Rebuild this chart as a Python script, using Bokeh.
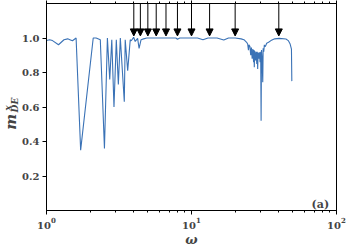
import math
from bokeh.plotting import figure
from bokeh.layouts import row
from bokeh.models import (LogAxis, FixedTicker, PrintfTickFormatter, Arrow, NormalHead,
                          Label, ColumnDataSource, Range1d, LogTicker, CustomJSTickFormatter)
from bokeh.embed import file_html
from bokeh.resources import INLINE

# ---- data ----
omega = [1.00, 1.05, 1.10, 1.21, 1.32, 1.40, 1.45, 1.51, 1.60, 1.72, 2.10, 2.20, 2.35, 2.51,
         2.63, 2.73, 2.82, 2.92, 3.03, 3.13, 3.23, 3.44, 3.49, 3.63, 3.78, 3.84, 3.99, 4.09,
         4.25, 4.35, 4.49, 4.67, 4.92, 5.5, 6.2, 7.0, 7.8, 8.0, 8.3, 9.5, 11.0, 12.0, 13.0,
         15.0, 16.7, 18.0, 20.0, 22.0, 23.0, 24.0, 24.4, 24.7, 24.9, 25.3, 25.6, 25.9, 26.2,
         26.5, 26.8, 27.0, 27.1, 27.3, 27.6, 27.9, 28.2, 28.4, 28.6, 28.8, 29.1, 29.4, 29.7,
         30.0, 30.2, 30.4, 30.7, 31.0, 31.2, 31.5, 31.8, 32.3, 33.0, 34.0, 35.3, 37.5, 40.3,
         44.8, 46.5, 47.9, 48.9, 49.2]
m_de = [0.985, 0.990, 0.985, 0.961, 0.990, 0.995, 0.990, 0.984, 1.000, 0.350, 1.000, 1.000,
        0.990, 0.360, 1.000, 0.760, 0.990, 0.600, 0.990, 0.730, 1.000, 0.630, 0.990, 0.810,
        0.990, 0.984, 1.004, 0.980, 0.998, 0.940, 0.990, 0.995, 1.000, 1.000, 1.000, 1.000,
        1.000, 0.993, 1.000, 1.000, 1.000, 0.990, 1.000, 1.000, 0.988, 1.000, 1.000, 0.995,
        0.990, 0.975, 0.965, 0.930, 0.960, 0.950, 0.900, 0.945, 0.880, 0.936, 0.860, 0.930,
        0.830, 0.925, 0.870, 0.920, 0.850, 0.920, 0.820, 0.915, 0.880, 0.917, 0.860, 0.920,
        0.520, 0.930, 0.880, 0.743, 0.940, 0.920, 0.960, 0.950, 0.970, 0.975, 0.985, 0.995,
        0.998, 0.994, 0.985, 0.965, 0.936, 0.750]

arrow_omega = [4.0, 4.44, 5.0, 5.71, 6.67, 8.0, 10.0, 13.33, 20.0, 40.0]
arrow_from = 1.2
arrow_to = 1.012

y_ticks = [0.2, 0.4, 0.6, 0.8, 1.0]
x_min, x_max = 1, 100
y_min, y_max = 0.0, 1.2

SERIF = "DejaVu Serif"
LABEL_W = 19

# ---------------- main plot ----------------
p = figure(width=349 - LABEL_W, height=249, x_axis_type="log",
           x_range=Range1d(x_min, x_max), y_range=Range1d(y_min, y_max),
           output_backend="svg", toolbar_location=None,
           min_border_left=44 - LABEL_W, min_border_right=13, min_border_top=0,
           min_border_bottom=37)
p.grid.visible = False
p.outline_line_color = "black"
p.outline_line_width = 1
p.background_fill_color = "white"
p.border_fill_color = "white"

p.line(omega, m_de, line_color="#3a72b6", line_width=1.1)

src = ColumnDataSource(dict(x=arrow_omega,
                            y0=[arrow_from] * len(arrow_omega),
                            y1=[arrow_to] * len(arrow_omega)))
p.add_layout(Arrow(end=NormalHead(size=7, fill_color="black", line_color="black", line_width=1),
                   x_start="x", y_start="y0", x_end="x", y_end="y1",
                   source=src, line_color="black", line_width=1))

# bottom x axis
xa = p.xaxis[0]
xa.ticker = LogTicker(num_minor_ticks=10)
xa.axis_label = "ω"
xa.axis_label_text_font = SERIF
xa.axis_label_text_font_style = "bold italic"
xa.axis_label_text_font_size = "13px"
xa.axis_label_standoff = 0
xa.major_label_text_font = SERIF
xa.major_label_text_font_style = "bold"
xa.major_label_text_font_size = "10px"
xa.major_label_standoff = 3
xa.major_tick_out = 4
xa.major_tick_in = 0
xa.minor_tick_out = 2
xa.minor_tick_in = 0
xa.axis_line_color = "black"
xa.major_tick_line_color = "black"
xa.minor_tick_line_color = "black"

# left y axis
ya = p.yaxis[0]
ya.ticker = FixedTicker(ticks=y_ticks)
ya.formatter = PrintfTickFormatter(format="%.1f")
ya.major_label_text_font = SERIF
ya.major_label_text_font_style = "bold"
ya.major_label_text_font_size = "10px"
ya.major_label_standoff = 3
ya.major_tick_out = 4
ya.major_tick_in = 0
ya.minor_tick_line_color = None
ya.axis_line_color = "black"
ya.major_tick_line_color = "black"

# top mirror axis (ticks only)
top = LogAxis(ticker=LogTicker(num_minor_ticks=10),
              formatter=CustomJSTickFormatter(code="return ''"),
              major_label_text_font_size="1px",
              major_label_standoff=0, major_tick_out=3, major_tick_in=0,
              minor_tick_out=2, minor_tick_in=0, axis_line_color="black")
p.add_layout(top, "above")

# panel tag
p.add_layout(Label(x=89, y=0.032, text="(a)", text_font=SERIF, text_font_style="bold",
                   text_font_size="11px", text_align="right", text_baseline="alphabetic"))

# ---------------- y-axis title strip: m^x_{DE} ----------------
lab = figure(width=LABEL_W, height=249, x_range=Range1d(0, LABEL_W), y_range=Range1d(249, 0),
             output_backend="svg", toolbar_location=None,
             x_axis_location=None, y_axis_location=None,
             min_border_left=0, min_border_right=0, min_border_top=0, min_border_bottom=0)
lab.grid.visible = False
lab.outline_line_color = None
lab.background_fill_color = "white"
lab.border_fill_color = "white"
lab.add_layout(Label(x=10.5, y=152, text="m", angle=math.pi / 2,
                     text_font=SERIF, text_font_style="bold italic", text_font_size="15px",
                     text_baseline="alphabetic", text_align="left"))
lab.add_layout(Label(x=7, y=129, text="x", angle=math.pi / 2,
                     text_font=SERIF, text_font_style="bold italic", text_font_size="9px",
                     text_baseline="alphabetic", text_align="left"))
lab.add_layout(Label(x=14.5, y=131, text="DE", angle=math.pi / 2,
                     text_font=SERIF, text_font_style="bold italic", text_font_size="9px",
                     text_baseline="alphabetic", text_align="left"))

layout = row(lab, p, spacing=0)
open("out.html", "w").write(file_html(layout, INLINE))
